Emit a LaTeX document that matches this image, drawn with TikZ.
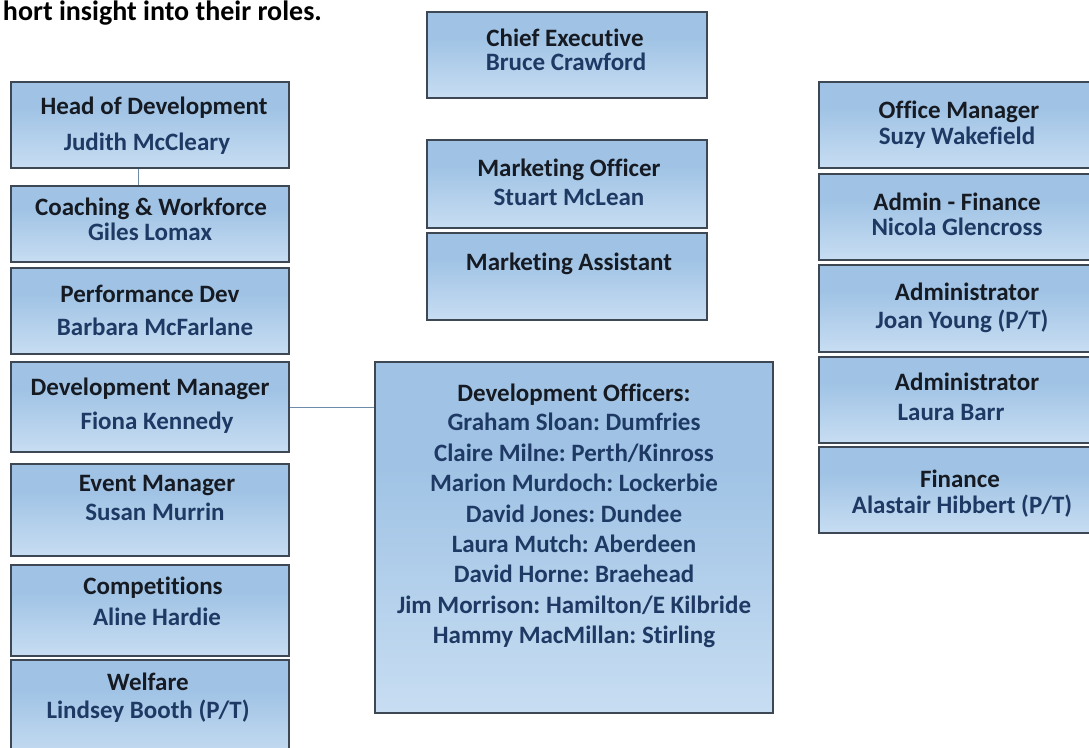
\documentclass[tikz,border=0pt]{standalone}
\usepackage{fontspec}
\setmainfont{Carlito}[Ligatures=NoCommon]
\usepackage{tikz}
\usetikzlibrary{positioning}
\frenchspacing
\definecolor{ttlcol}{RGB}{22,26,34}
\definecolor{nmcol}{RGB}{30,58,100}
\definecolor{edgecol}{RGB}{62,72,84}
\definecolor{linkcol}{RGB}{110,140,170}
\definecolor{shadetop}{RGB}{160,195,229}
\definecolor{shademid}{RGB}{205,225,244}
\definecolor{shadebot}{RGB}{244,248,253}
\pgfdeclareverticalshading{boxshade}{100bp}{color(0bp)=(shadebot); color(20bp)=(shademid); color(60bp)=(shadetop); color(100bp)=(shadetop)}
\tikzset{
  post/.style={draw=edgecol, line width=1.5pt, shading=boxshade, shading angle=0, inner sep=0pt},
  ttl/.style={anchor=base, inner sep=0pt, text=ttlcol, font=\fontsize{25}{30}\selectfont\bfseries},
  nm/.style={ttl, text=nmcol},
  link/.style={draw=linkcol, line width=1pt}
}

\begin{document}
\begin{tikzpicture}[x=1pt, y=-1pt]
        \clip (0,0) rectangle (1089,747);
        \node[ttl, anchor=base east, text=black, font=\fontsize{28}{33}\selectfont\bfseries] (intro) at (322,20) {hort insight into their roles.};

        % left column
        \node[post, minimum width=278pt, minimum height=86pt] (hod) at (150,125) {};
        \node[post, minimum width=278pt, minimum height=76pt] (cw) at (150,224) {};
        \node[post, minimum width=278pt, minimum height=86pt] (pd) at (150,311) {};
        \node[post, minimum width=278pt, minimum height=90pt] (dm) at (150,407) {};
        \node[post, minimum width=278pt, minimum height=92pt] (em) at (150,510) {};
        \node[post, minimum width=278pt, minimum height=91pt] (cp) at (150,610.5) {};
        \node[post, minimum width=278pt, minimum height=100pt] (wf) at (150,710) {};

        \node[ttl] (hodT) at (154,114) {Head of Development};
        \node[nm] (hodN) at (147,150) {Judith McCleary};
        \node[ttl] (cwT) at (151,215) {Coaching \& Workforce};
        \node[nm] (cwN) at (150,240) {Giles Lomax};
        \node[ttl] (pdT) at (150,302) {Performance Dev};
        \node[nm] (pdN) at (155,335) {Barbara McFarlane};
        \node[ttl] (dmT) at (150,395) {Development Manager};
        \node[nm] (dmN) at (157,429) {Fiona Kennedy};
        \node[ttl] (emT) at (157,491) {Event Manager};
        \node[nm] (emN) at (155,520) {Susan Murrin};
        \node[ttl] (cpT) at (153,594) {Competitions};
        \node[nm] (cpN) at (157,625) {Aline Hardie};
        \node[ttl] (wfT) at (148,690) {Welfare};
        \node[nm] (wfN) at (148,718) {Lindsey Booth (P/T)};

        % centre column
        \node[post, minimum width=280pt, minimum height=86pt] (ce) at (567,55) {};
        \node[post, minimum width=280pt, minimum height=88pt] (mo) at (567,184) {};
        \node[post, minimum width=280pt, minimum height=87pt] (ma) at (567,276.5) {};
        \node[post, minimum width=398pt, minimum height=351pt] (do) at (574,537.5) {};

        \node[ttl] (ceT) at (565,46) {Chief Executive};
        \node[nm] (ceN) at (566,70) {Bruce Crawford};
        \node[ttl] (moT) at (569,176) {Marketing Officer};
        \node[nm] (moN) at (569,205) {Stuart McLean};
        \node[ttl] (maT) at (569,270) {Marketing Assistant};
        \node[ttl] (doT) at (574,401) {Development Officers:};
        \foreach \who [count=\i] in {Graham Sloan: Dumfries, Claire Milne: Perth/Kinross,
            Marion Murdoch: Lockerbie, David Jones: Dundee, Laura Mutch: Aberdeen,
            David Horne: Braehead, Jim Morrison: Hamilton/E Kilbride, Hammy MacMillan: Stirling}
          \node[nm] (do\i) at (574,{400.5+30.4*\i}) {\who};

        % right column
        \node[post, minimum width=281pt, minimum height=86pt] (om) at (959.5,125) {};
        \node[post, minimum width=281pt, minimum height=86pt] (af) at (959.5,217) {};
        \node[post, minimum width=281pt, minimum height=87pt] (aj) at (959.5,308.5) {};
        \node[post, minimum width=281pt, minimum height=86pt] (al) at (959.5,400) {};
        \node[post, minimum width=281pt, minimum height=86pt] (fi) at (959.5,490) {};

        \node[ttl] (omT) at (959,118) {Office Manager};
        \node[nm] (omN) at (957,144) {Suzy Wakefield};
        \node[ttl] (afT) at (957,210) {Admin - Finance};
        \node[nm] (afN) at (957,235) {Nicola Glencross};
        \node[ttl] (ajT) at (967,300) {Administrator};
        \node[nm] (ajN) at (962,328) {Joan Young (P/T)};
        \node[ttl] (alT) at (967,390) {Administrator};
        \node[nm] (alN) at (951,420) {Laura Barr};
        \node[ttl] (fiT) at (960,487) {Finance};
        \node[nm] (fiN) at (962,513) {Alastair Hibbert (P/T)};

        % links
        \draw[link] ([xshift=-12pt]hod.south) -- ([xshift=-12pt]cw.north);
        \draw[link] (dm.east) -- (dm.east -| do.west);
    \end{tikzpicture}
\end{document}
